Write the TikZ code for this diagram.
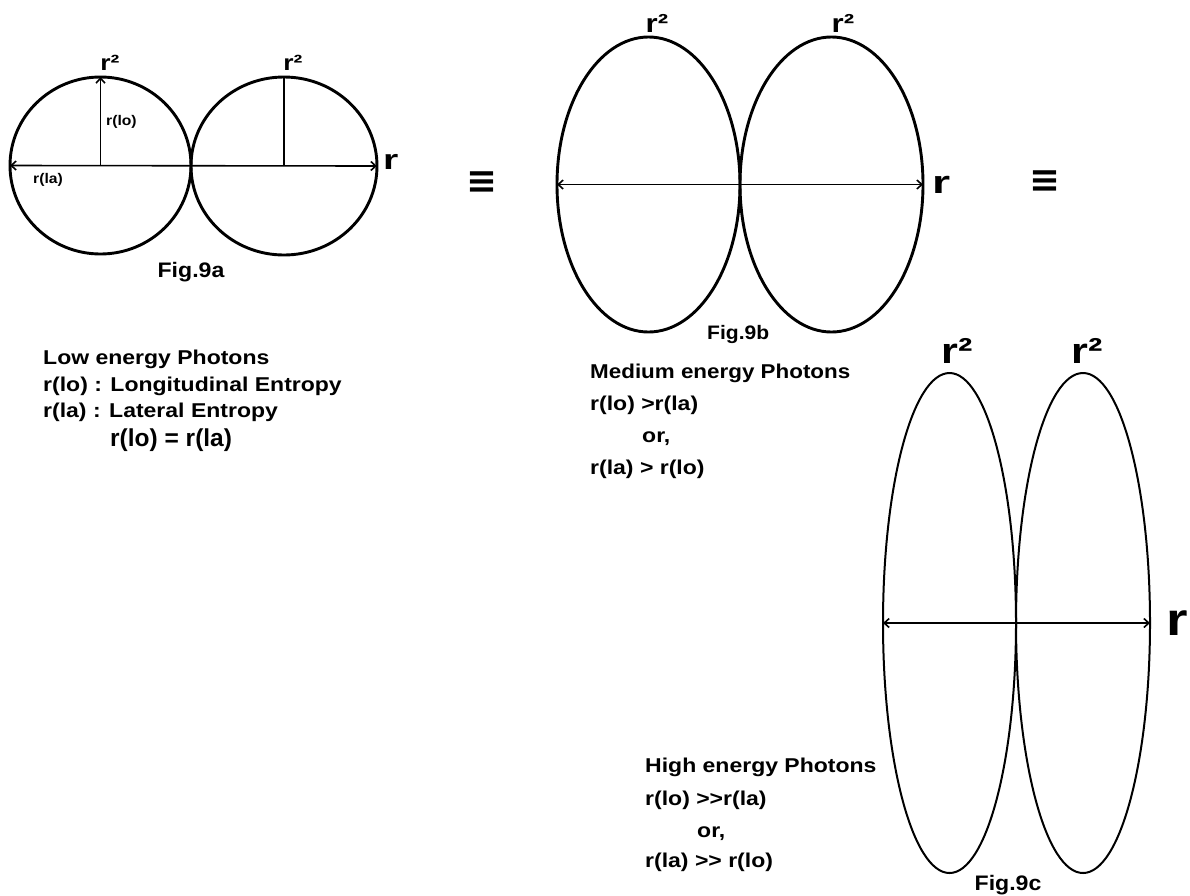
\documentclass[tikz,border=0pt]{standalone}
\usepackage{graphicx}
\usepackage{fontspec}
\setmainfont{Liberation Sans}
\newfontfamily\symf{DejaVu Sans}
\usetikzlibrary{arrows.meta,shapes.geometric}
\newcommand\tw[3]{{\fontsize{#1}{#1}\selectfont\scalebox{#2}[1]{#3}}}
\begin{document}
\begin{tikzpicture}[x=1pt,y=-1pt,
  lobe/.style={draw, ellipse, inner sep=0pt, outer sep=0pt, line width=2.9pt},
  thinlobe/.style={lobe, line width=2pt},
  axis/.style={line width=1.6pt, {Straight Barb[length=5pt,width=9pt]}-{Straight Barb[length=5pt,width=9pt]}},
  radius line/.style={line width=1.6pt},
  txt/.style={inner sep=0pt, anchor=base west, font=\bfseries},
  lbl/.style={inner sep=0pt, anchor=base, font=\bfseries},
  eqv/.style={inner sep=0pt, font=\symf\bfseries}]
\useasboundingbox (0,0) rectangle (1190,895);

% ---------- Fig 9a ----------
\node[lobe, minimum width=181pt, minimum height=177pt] (La) at (100.5,165.5) {};
\node[lobe, minimum width=186pt, minimum height=178pt] (Ra) at (284,166) {};
\draw[axis] (La.west) -- (Ra.east);
\draw[radius line, -{Straight Barb[length=5pt,width=9pt]}] (La.center) -- (La.north);
\draw[radius line] (Ra.center) -- (Ra.north);
\node[lbl] (r2a1) at (110,70) {\tw{22}{1.2}{r²}};
\node[lbl] (r2a2) at (293,70) {\tw{22}{1.2}{r²}};
\node[txt] (rlo) at (106,125) {\tw{14}{1.12}{r(lo)}};
\node[txt] (rla) at (33,183) {\tw{14}{1.12}{r(la)}};
\node[txt] (ra) at (383,169) {\tw{28}{1.4}{r}};
\node[lbl] (figa) at (191,277) {\tw{21}{1.1}{Fig.9a}};

% ---------- text 9a ----------
\node[txt] (low1) at (43,364) {\tw{20}{1.15}{Low energy Photons}};
\node[txt] (low2) at (43,391) {\tw{20}{1.15}{r(lo) : Longitudinal Entropy}};
\node[txt] (low3) at (43,417) {\tw{20}{1.15}{r(la) : Lateral Entropy}};
\node[txt] (low4) at (110,446) {\tw{24.5}{1.0}{r(lo) = r(la)}};

% ---------- equivalences ----------
\node[eqv] (eq1) at (482,183) {\tw{37}{1}{≡}};
\node[eqv] (eq2) at (1045,182) {\tw{37}{1}{≡}};

% ---------- Fig 9b ----------
\node[lobe, minimum width=183pt, minimum height=295pt] (Lb) at (648.5,184.5) {};
\node[lobe, minimum width=183pt, minimum height=295pt] (Rb) at (831.5,184.5) {};
\draw[axis] (Lb.west) -- (Rb.east);
\node[lbl] (r2b1) at (657,32) {\tw{26}{1.2}{r²}};
\node[lbl] (r2b2) at (843,32) {\tw{26}{1.2}{r²}};
\node[txt] (rb) at (932,193) {\tw{32}{1.45}{r}};
\node[txt] (figb) at (707,339) {\tw{19.5}{1.08}{Fig.9b}};

\node[txt] (med1) at (590,378) {\tw{20}{1.12}{Medium energy Photons}};
\node[txt] (med2) at (590,410) {\tw{20}{1.15}{r(lo) >r(la)}};
\node[txt] (med3) at (642,442) {\tw{20}{1.15}{or,}};
\node[txt] (med4) at (590,474) {\tw{20}{1.15}{r(la) > r(lo)}};

% ---------- Fig 9c ----------
\node[thinlobe, minimum width=133pt, minimum height=500pt] (Lc) at (949.5,623) {};
\node[thinlobe, minimum width=134pt, minimum height=500pt] (Rc) at (1083,623) {};
\draw[axis] (Lc.west) -- (Rc.east);
\node[lbl] (r2c1) at (957,363) {\tw{36}{1.2}{r²}};
\node[lbl] (r2c2) at (1087,363) {\tw{36}{1.2}{r²}};
\node[txt] (rc) at (1166,635) {\tw{46}{1.2}{r}};
\node[lbl] (figc) at (1008,890) {\tw{21}{1.1}{Fig.9c}};

\node[txt] (high1) at (645,772) {\tw{20}{1.15}{High energy Photons}};
\node[txt] (high2) at (645,805) {\tw{20}{1.15}{r(lo) >{}>r(la)}};
\node[txt] (high3) at (697,837) {\tw{20}{1.15}{or,}};
\node[txt] (high4) at (645,867) {\tw{20}{1.15}{r(la) >{}> r(lo)}};
\end{tikzpicture}
\end{document}
